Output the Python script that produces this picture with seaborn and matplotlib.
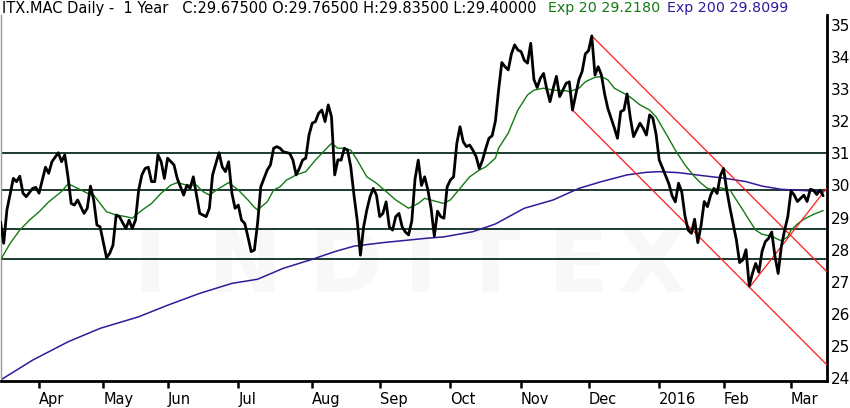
import pandas as pd
import matplotlib
matplotlib.use('Agg')
import matplotlib.pyplot as plt
import seaborn as sns

# trading calendar (Madrid exchange)
start_date = '2015-03-16'
end_date = '2016-03-15'
holidays = ['2015-04-03', '2015-04-06', '2015-05-01', '2015-12-25', '2016-01-01']
month_labels = ['Apr', 'May', 'Jun', 'Jul', 'Aug', 'Sep', 'Oct', 'Nov', 'Dec', '2016', 'Feb', 'Mar']

# closing price, by session number
price_session = [
    0, 1, 2, 4, 5, 6, 7, 8, 10, 11, 12, 14, 15, 16, 18, 19, 20, 21, 22, 23, 24, 26, 27, 28, 29, 30,
    31, 33, 34, 35, 36, 37, 39, 40, 41, 42, 43, 44, 45, 46, 47, 48, 49, 50, 51, 52, 54, 55, 57, 58,
    59, 60, 61, 62, 63, 64, 65, 66, 68, 69, 70, 71, 72, 73, 74, 75, 76, 77, 78, 79, 80, 81, 83, 84,
    85, 86, 87, 88, 90, 91, 92, 93, 94, 95, 96, 97, 98, 99, 100, 101, 102, 103, 104, 105, 106, 107,
    108, 109, 110, 111, 112, 113, 114, 115, 116, 117, 118, 119, 120, 121, 122, 123, 124, 125, 126,
    127, 128, 129, 130, 131, 132, 133, 134, 135, 136, 137, 138, 139, 140, 141, 142, 143, 144, 145,
    146, 147, 148, 149, 150, 151, 152, 153, 154, 155, 156, 157, 158, 159, 160, 161, 162, 163, 164,
    165, 166, 167, 168, 169, 170, 171, 172, 173, 174, 175, 176, 177, 178, 179, 180, 181, 182, 183,
    184, 185, 186, 187, 188, 189, 190, 191, 192, 193, 194, 195, 196, 197, 198, 199, 200, 201, 202,
    203, 204, 205, 206, 207, 208, 209, 210, 211, 212, 213, 214, 215, 216, 217, 218, 219, 220, 221,
    222, 223, 224, 225, 226, 227, 228, 229, 230, 231, 232, 233, 234, 235, 236, 237, 238, 239, 240,
    241, 242, 243, 244, 245, 246, 247, 248, 249, 250, 251, 252, 253, 254, 255, 256]
price_close = [
    28.87, 28.20, 29.24, 30.22, 30.12, 30.29, 29.76, 29.65, 29.91, 29.94, 29.76, 30.57, 30.38, 30.74,
    31.02, 30.74, 30.95, 30.27, 29.44, 29.39, 29.55, 29.13, 29.29, 29.98, 29.55, 28.77, 28.71, 27.75,
    27.89, 28.14, 29.08, 29.03, 28.66, 28.92, 28.66, 28.92, 29.86, 30.33, 30.53, 30.57, 30.12, 30.12,
    30.95, 30.74, 30.22, 30.85, 30.64, 30.22, 29.70, 30.01, 29.91, 30.27, 29.70, 29.13, 29.08, 29.03,
    29.29, 30.33, 31.02, 30.58, 30.43, 30.74, 29.76, 29.29, 29.39, 28.92, 28.82, 28.40, 27.94, 27.99,
    28.82, 29.96, 30.48, 30.64, 31.16, 31.21, 31.16, 31.05, 31.00, 30.79, 30.33, 30.53, 30.79, 30.85,
    31.57, 31.94, 31.99, 32.25, 32.35, 31.99, 32.51, 32.14, 30.33, 30.80, 30.79, 31.16, 31.10, 30.58,
    29.70, 28.92, 27.83, 28.71, 29.24, 29.65, 29.91, 29.70, 29.03, 29.13, 29.49, 28.71, 28.61, 29.03,
    29.13, 28.71, 28.55, 28.46, 28.90, 30.20, 30.79, 30.00, 30.27, 29.86, 29.29, 28.42, 29.20, 29.03,
    28.98, 29.96, 30.17, 30.27, 31.31, 31.83, 31.36, 31.21, 31.26, 31.10, 30.90, 30.53, 30.79, 31.15,
    31.47, 31.55, 32.00, 32.97, 33.83, 33.70, 33.60, 34.10, 34.38, 34.22, 34.17, 33.90, 33.81, 34.43,
    33.30, 33.05, 33.34, 33.49, 33.00, 32.61, 33.03, 33.40, 32.77, 32.97, 33.18, 33.23, 32.35, 32.82,
    33.30, 33.55, 34.10, 34.20, 34.66, 33.44, 33.70, 33.44, 32.85, 32.40, 32.10, 31.80, 31.47, 32.30,
    32.35, 32.85, 32.10, 31.52, 31.73, 31.94, 31.78, 31.57, 32.20, 32.10, 31.60, 30.79, 30.55, 30.30,
    30.05, 29.68, 29.49, 30.07, 29.80, 29.05, 28.61, 28.51, 28.95, 28.22, 28.75, 29.50, 29.34, 29.70,
    29.91, 29.75, 30.30, 30.53, 29.85, 29.30, 28.80, 28.30, 27.60, 27.68, 28.00, 26.87, 27.26, 27.57,
    27.30, 27.95, 28.25, 28.35, 28.55, 27.80, 27.26, 28.10, 28.60, 29.03, 29.83, 29.70, 29.50, 29.60,
    29.70, 29.50, 29.88, 29.85, 29.72, 29.85, 29.68]

# exponential moving average 20
ema20_session = [
    0, 3, 6, 9, 12, 15, 19, 21, 22, 25, 27, 29, 31, 33, 36, 39, 41, 43, 45, 47, 50, 53, 55, 58, 61,
    63, 65, 68, 71, 74, 77, 79, 80, 83, 85, 87, 89, 90, 92, 95, 98, 102, 103, 105, 107, 109, 111,
    114, 117, 120, 123, 127, 130, 132, 136, 138, 140, 143, 146, 149, 151, 154, 155, 158, 161, 164,
    166, 169, 172, 176, 177, 180, 182, 185, 187, 189, 191, 194, 196, 199, 202, 204, 207, 210, 213,
    216, 218, 220, 222, 224, 227, 229, 231, 233, 235, 237, 240, 242, 243, 245, 246, 248, 250, 253, 256]
ema20_value = [
    27.68, 28.20, 28.61, 28.92, 29.18, 29.49, 29.81, 30.05, 30.01, 29.86, 29.76, 29.70, 29.44, 29.18,
    29.08, 29.03, 28.98, 29.15, 29.30, 29.44, 29.76, 30.01, 30.09, 30.01, 30.01, 29.81, 29.70, 29.91,
    30.09, 29.86, 29.55, 29.32, 29.24, 29.49, 29.86, 29.96, 30.17, 30.22, 30.33, 30.43, 30.79, 31.21,
    31.31, 31.16, 31.16, 31.10, 30.79, 30.27, 30.07, 29.81, 29.55, 29.29, 29.44, 29.60, 29.49, 29.44,
    29.55, 29.91, 30.27, 30.48, 30.58, 30.85, 31.16, 31.63, 32.35, 32.82, 32.97, 33.03, 32.97, 32.95,
    32.92, 33.03, 33.23, 33.37, 33.39, 33.29, 33.03, 32.87, 32.75, 32.51, 32.35, 32.14, 31.63, 31.10,
    30.64, 30.27, 30.07, 29.91, 29.86, 29.93, 29.86, 29.55, 29.24, 28.92, 28.61, 28.48, 28.42, 28.32,
    28.28, 28.40, 28.61, 28.80, 28.95, 29.10, 29.22]

# exponential moving average 200
ema200_session = [
    0, 10, 21, 31, 43, 52, 62, 72, 80, 88, 97, 104, 110, 119, 132, 138, 147, 154, 163, 172, 180, 187,
    195, 201, 205, 211, 219, 225, 232, 237, 243, 256]
ema200_value = [
    23.94, 24.56, 25.13, 25.55, 25.91, 26.27, 26.64, 26.95, 27.08, 27.42, 27.70, 27.94, 28.11, 28.22,
    28.35, 28.40, 28.56, 28.80, 29.29, 29.55, 29.91, 30.12, 30.33, 30.41, 30.43, 30.40, 30.30, 30.23,
    30.12, 29.98, 29.88, 29.81]

# horizontal support / resistance levels
levels = [31.0, 29.86, 28.64, 27.72]

# trend channel lines: start and end (session, price)
trend_start_session = [184, 178, 233]
trend_start_value = [34.66, 32.35, 26.82]
trend_end_session = [257, 257, 257]
trend_end_value = [27.33, 24.43, 29.90]

title_main = 'ITX.MAC Daily -  1 Year   C:29.67500 O:29.76500 H:29.83500 L:29.40000'
title_ema20 = 'Exp 20 29.2180'
title_ema200 = 'Exp 200 29.8099'

GREEN = '#137a13'
NAVY = '#33199a'
LEVEL = '#1d3a30'

sessions = pd.bdate_range(start_date, end_date, freq='C', holidays=holidays)
num = pd.Series(range(len(sessions)), index=sessions)
month_first = num.groupby(sessions.to_period('M')).first().iloc[1:]

sns.set_style('white')
plt.rcParams['font.family'] = ['DejaVu Sans']

fig = plt.figure(figsize=(8.5, 4.08), dpi=100)
ax = fig.add_axes([0.5 / 850, 1 - 381 / 408, 826.5 / 850, 366 / 408])

# watermark
for letter, xf in zip('INDITEX', [0.182, 0.296, 0.418, 0.508, 0.592, 0.699, 0.788]):
    ax.text(xf, 0.311, letter, transform=ax.transAxes, fontsize=64, color='#f8f8f8',
            fontweight='bold', ha='center', va='center', zorder=0)

for lv in levels:
    ax.axhline(lv, color=LEVEL, lw=1.4, zorder=1)

sns.lineplot(x=ema200_session, y=ema200_value, ax=ax, color=NAVY, lw=1.1, zorder=2)
sns.lineplot(x=ema20_session, y=ema20_value, ax=ax, color=GREEN, lw=1.0, zorder=3)

for x0, y0, x1, y1 in zip(trend_start_session, trend_start_value, trend_end_session, trend_end_value):
    ax.plot([x0, x1], [y0, y1], color='#ff1a1a', lw=0.9, zorder=4)

sns.lineplot(x=price_session, y=price_close, ax=ax, color='black', lw=2.0, zorder=5)

ax.set_xlim(0, 257.2)
ax.set_ylim(23.91, 35.31)
ax.set_xlabel('')
ax.set_ylabel('')

ax.yaxis.tick_right()
ax.set_yticks(range(24, 36))
ax.tick_params(axis='y', length=0, pad=3, labelsize=11, colors='black')

ax.set_xticks(month_first.values)
ax.set_xticklabels(month_labels, ha='left')
ax.tick_params(axis='x', direction='out', length=5, width=1.8, pad=3, labelsize=10.5,
               bottom=True, colors='black')

ax.spines['top'].set_visible(False)
ax.spines['left'].set_color('#9a9a9a')
ax.spines['left'].set_linewidth(1)
ax.spines['right'].set_color('black')
ax.spines['right'].set_linewidth(2)
ax.spines['bottom'].set_color('black')
ax.spines['bottom'].set_linewidth(2)

ty = 1 - 8 / 408
fig.text(2 / 850, ty, title_main, fontsize=10.5, color='black', va='center')
fig.text(548 / 850, ty, title_ema20, fontsize=10.3, color=GREEN, va='center')
fig.text(667 / 850, ty, title_ema200, fontsize=10.3, color=NAVY, va='center')

fig.savefig('out.png', dpi=100)
